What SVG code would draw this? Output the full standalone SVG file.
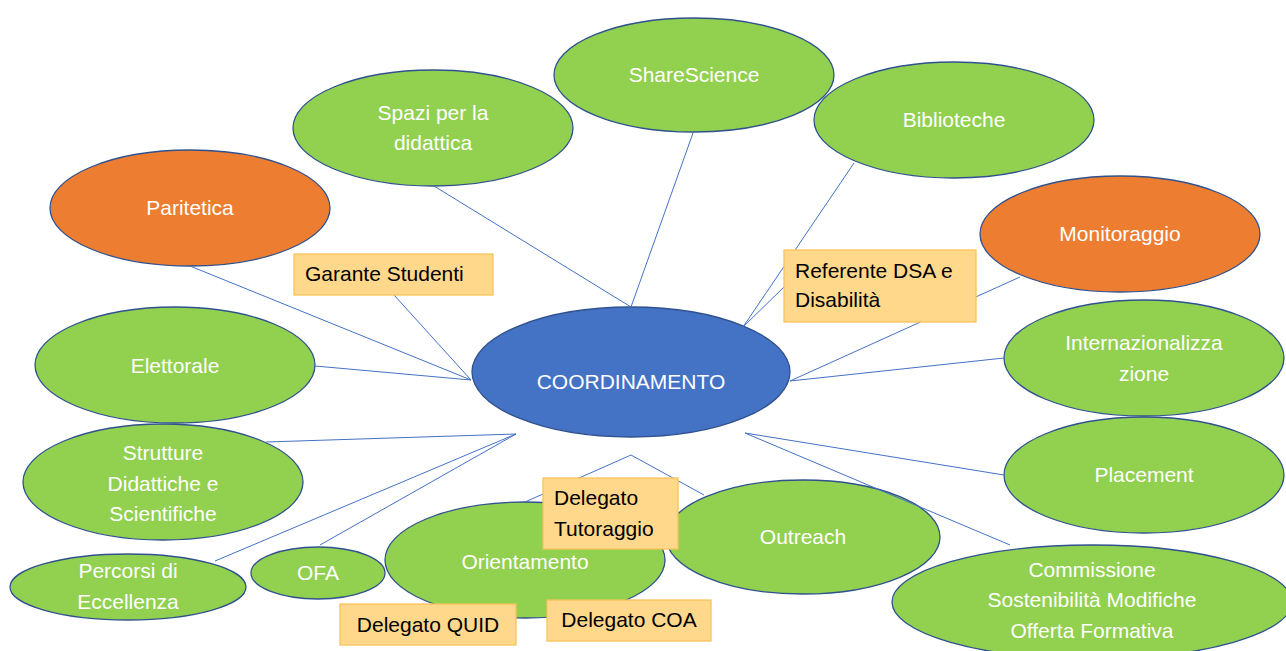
<svg xmlns="http://www.w3.org/2000/svg" width="1286" height="651" viewBox="0 0 1286 651">
<style>
.g{fill:#92D050;stroke:#2F528F;stroke-width:1.3}
.o{fill:#ED7D31;stroke:#2F528F;stroke-width:1.3}
.b{fill:#4472C4;stroke:#2F528F;stroke-width:1.3}
.bx{fill:#FFD88C;stroke:#F7C35B;stroke-width:1.3}
.t{font-family:"Liberation Sans",Arial,sans-serif;font-size:21px;fill:#ffffff;text-anchor:middle}
.k{font-family:"Liberation Sans",Arial,sans-serif;font-size:21px;fill:#000000}
.km{text-anchor:middle}
#conn line{stroke:#4472C4;stroke-width:1;fill:none}
</style>
<rect width="1286" height="651" fill="#ffffff"/>

<g id="sharescience"><ellipse class="g" cx="694" cy="75" rx="140" ry="57"/><text class="t" x="694" y="82">ShareScience</text></g>
<g id="spazi"><ellipse class="g" cx="433" cy="128" rx="140" ry="58"/><text class="t" x="433" y="120">Spazi per la</text><text class="t" x="433" y="150">didattica</text></g>
<g id="biblioteche"><ellipse class="g" cx="954" cy="120" rx="140" ry="58"/><text class="t" x="954" y="127">Biblioteche</text></g>
<g id="paritetica"><ellipse class="o" cx="190" cy="208" rx="140" ry="58"/><text class="t" x="190" y="215">Paritetica</text></g>
<g id="monitoraggio"><ellipse class="o" cx="1120" cy="234" rx="140" ry="58"/><text class="t" x="1120" y="241">Monitoraggio</text></g>
<g id="elettorale"><ellipse class="g" cx="175" cy="365" rx="140" ry="58"/><text class="t" x="175" y="373">Elettorale</text></g>
<g id="internazionalizzazione"><ellipse class="g" cx="1144" cy="358" rx="140" ry="58"/><text class="t" x="1144" y="350">Internazionalizza</text><text class="t" x="1144" y="381">zione</text></g>
<g id="strutture"><ellipse class="g" cx="163" cy="482" rx="140" ry="58"/><text class="t" x="163" y="460">Strutture</text><text class="t" x="163" y="491">Didattiche e</text><text class="t" x="163" y="521">Scientifiche</text></g>
<g id="placement"><ellipse class="g" cx="1144" cy="475" rx="140" ry="58"/><text class="t" x="1144" y="482">Placement</text></g>
<g id="percorsi"><ellipse class="g" cx="128" cy="587" rx="118" ry="33"/><text class="t" x="128" y="578">Percorsi di</text><text class="t" x="128" y="609">Eccellenza</text></g>
<g id="ofa"><ellipse class="g" cx="318" cy="573" rx="67" ry="26"/><text class="t" x="318" y="580">OFA</text></g>
<g id="orientamento"><ellipse class="g" cx="525" cy="560" rx="140" ry="58"/><text class="t" x="525" y="569">Orientamento</text></g>
<g id="outreach"><ellipse class="g" cx="803" cy="537" rx="137" ry="57"/><text class="t" x="803" y="544">Outreach</text></g>
<g id="commissione"><ellipse class="g" cx="1092" cy="602" rx="200" ry="57"/><text class="t" x="1092" y="577">Commissione</text><text class="t" x="1092" y="607">Sostenibilità Modifiche</text><text class="t" x="1092" y="638">Offerta Formativa</text></g>
<g id="coordinamento"><ellipse class="b" cx="631" cy="372" rx="159" ry="65"/><text class="t" x="631" y="389">COORDINAMENTO</text></g>

<g id="conn">
<line x1="190" y1="266" x2="471" y2="380"/>
<line x1="394" y1="295" x2="471" y2="380"/>
<line x1="315" y1="366" x2="471" y2="380"/>
<line x1="266" y1="442" x2="516" y2="434"/>
<line x1="215" y1="561" x2="516" y2="434"/>
<line x1="320" y1="545" x2="516" y2="434"/>
<line x1="525" y1="502" x2="631" y2="455"/>
<line x1="631" y1="455" x2="704" y2="495"/>
<line x1="745" y1="433" x2="1004" y2="475"/>
<line x1="745" y1="433" x2="1010" y2="545"/>
<line x1="790" y1="381" x2="1004" y2="358"/>
<line x1="790" y1="381" x2="1020" y2="277"/>
<line x1="784" y1="287" x2="743" y2="327"/>
<line x1="854" y1="163" x2="743" y2="327"/>
<line x1="693" y1="133" x2="631" y2="307"/>
<line x1="434" y1="186" x2="631" y2="307"/>
</g>

<g id="garante"><rect class="bx" x="294" y="254" width="199" height="41"/><text class="k" x="305" y="281">Garante Studenti</text></g>
<g id="referente"><rect class="bx" x="784" y="250" width="192" height="72"/><text class="k" x="795" y="278">Referente DSA e</text><text class="k" x="795" y="307">Disabilità</text></g>
<g id="tutoraggio"><rect class="bx" x="543" y="478" width="135" height="71"/><text class="k" x="554" y="505">Delegato</text><text class="k" x="554" y="536">Tutoraggio</text></g>
<g id="quid"><rect class="bx" x="340" y="604" width="176" height="41"/><text class="k km" x="428" y="632">Delegato QUID</text></g>
<g id="coa"><rect class="bx" x="547" y="600" width="164" height="41"/><text class="k km" x="629" y="627">Delegato COA</text></g>
</svg>
